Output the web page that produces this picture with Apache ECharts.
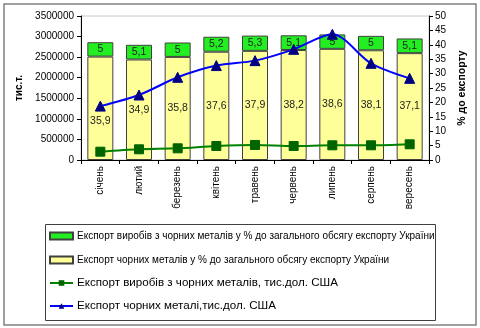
<!DOCTYPE html>
<html><head><meta charset="utf-8">
<script src="https://cdn.jsdelivr.net/npm/echarts@6/dist/echarts.min.js"></script>
<style>html,body{margin:0;padding:0;background:#fff}#c{width:480px;height:328px}</style>
</head><body><div id="c"></div>
<script>
const categories = ['січень','лютий','березень','квітень','травень','червень','липень','серпень','вересень'];
const metalsPct = [35.9,34.9,35.8,37.6,37.9,38.2,38.6,38.1,37.1];
const productsPct = [5,5.1,5,5.2,5.3,5.1,5,5,5.1];
const productsUsd = [202000,260000,284000,340000,365000,340000,357000,357000,382000];
const metalsUsd = [1310000,1580000,2010000,2295000,2415000,2690000,3055000,2350000,1985000];
const leftTicks = {min:0,max:3500000,interval:500000};
const rightTicks = {min:0,max:50,interval:5};

const names = [
  'Експорт виробів з чорних металів у % до загального обсягу експорту України',
  'Експорт чорних металів у % до загального обсягу експорту України',
  'Експорт виробів з чорних металів, тис.дол. США',
  'Експорт чорних металі,тис.дол. США'
];
const FF = '"Liberation Sans", Arial, sans-serif';
const fmt = p => String(p.value).replace('.', ',');
const chart = echarts.init(document.getElementById('c'), null, {renderer:'canvas'});
const mkLegend = (i, top, size, icon) => {
  const l = {
    data:[names[i]], left:45, top:top, orient:'vertical', padding:[0,0,0,4],
    itemWidth:23, itemHeight:7, itemGap:0, selectedMode:false,
    textStyle:{fontFamily:FF, fontSize:size, color:'#000', padding:[0,0,0,-1]}
  };
  if (icon) l.icon = icon;
  return l;
};
chart.setOption({
  animation:false,
  textStyle:{fontFamily:FF},
  graphic:[
    {type:'rect', shape:{x:4,y:4,width:472,height:321}, style:{fill:null, stroke:'#808080', lineWidth:1.5}, z:-1},
    {type:'rect', shape:{x:45.5,y:224.5,width:390,height:96}, style:{fill:null, stroke:'#404040', lineWidth:1}, z:-1}
  ],
  legend:[
    mkLegend(0, 231, 10, 'rect'),
    mkLegend(1, 255, 10, 'rect'),
    mkLegend(2, 277, 11.6),
    mkLegend(3, 300, 11.6)
  ],
  grid:{left:81, right:51, top:16, bottom:168, show:true, borderColor:'#c8c8c8', borderWidth:1},
  xAxis:{type:'category', data:categories, boundaryGap:true,
    axisLine:{lineStyle:{color:'#000'}},
    axisTick:{show:true, length:4, lineStyle:{color:'#000'}},
    axisLabel:{rotate:90, fontSize:10, color:'#000', margin:6, interval:0}
  },
  yAxis:[
    {type:'value', min:leftTicks.min, max:leftTicks.max, interval:leftTicks.interval,
      name:'тис.т.', nameLocation:'middle', nameGap:53, nameRotate:90,
      nameTextStyle:{fontSize:10, fontWeight:'bold', color:'#000'},
      axisLine:{show:true, lineStyle:{color:'#000'}},
      axisTick:{show:true, length:4, lineStyle:{color:'#000'}},
      splitLine:{show:false},
      axisLabel:{fontSize:10, color:'#000', margin:7, formatter:v=>String(v)}
    },
    {type:'value', position:'right', min:rightTicks.min, max:rightTicks.max, interval:rightTicks.interval,
      name:'% до експорту', nameLocation:'middle', nameGap:27, nameRotate:90,
      nameTextStyle:{fontSize:10.5, fontWeight:'bold', color:'#000'},
      axisLine:{show:true, lineStyle:{color:'#000'}},
      axisTick:{show:true, length:4, lineStyle:{color:'#000'}},
      splitLine:{show:false},
      axisLabel:{fontSize:10, color:'#000', margin:6}
    }
  ],
  series:[
    {name:names[1], type:'bar', stack:'pct', yAxisIndex:1, barWidth:26,
      data:metalsPct.map((v,i)=> i===0 ? {value:v, label:{offset:[0,13]}} : v),
      itemStyle:{color:'#FFFF99', borderColor:'#404040', borderWidth:1},
      label:{show:true, position:'inside', formatter:fmt, fontSize:10.5, color:'#222'}
    },
    {name:names[0], type:'bar', stack:'pct', yAxisIndex:1, barWidth:26,
      data:productsPct,
      itemStyle:{color:'#22EE22', borderColor:'#404040', borderWidth:1},
      label:{show:true, position:'inside', formatter:fmt, fontSize:10.5, color:'#222'}
    },
    {name:names[2], type:'line', yAxisIndex:0, data:productsUsd, smooth:0.3,
      symbol:'rect', symbolSize:9,
      lineStyle:{color:'#008000', width:2},
      itemStyle:{color:'#006400', borderColor:'#006400'}, z:5
    },
    {name:names[3], type:'line', yAxisIndex:0, data:metalsUsd, smooth:0.3,
      symbol:'triangle', symbolSize:10,
      lineStyle:{color:'#0000FF', width:2},
      itemStyle:{color:'#000080', borderColor:'#000080'}, z:5
    }
  ]
});
</script></body></html>
